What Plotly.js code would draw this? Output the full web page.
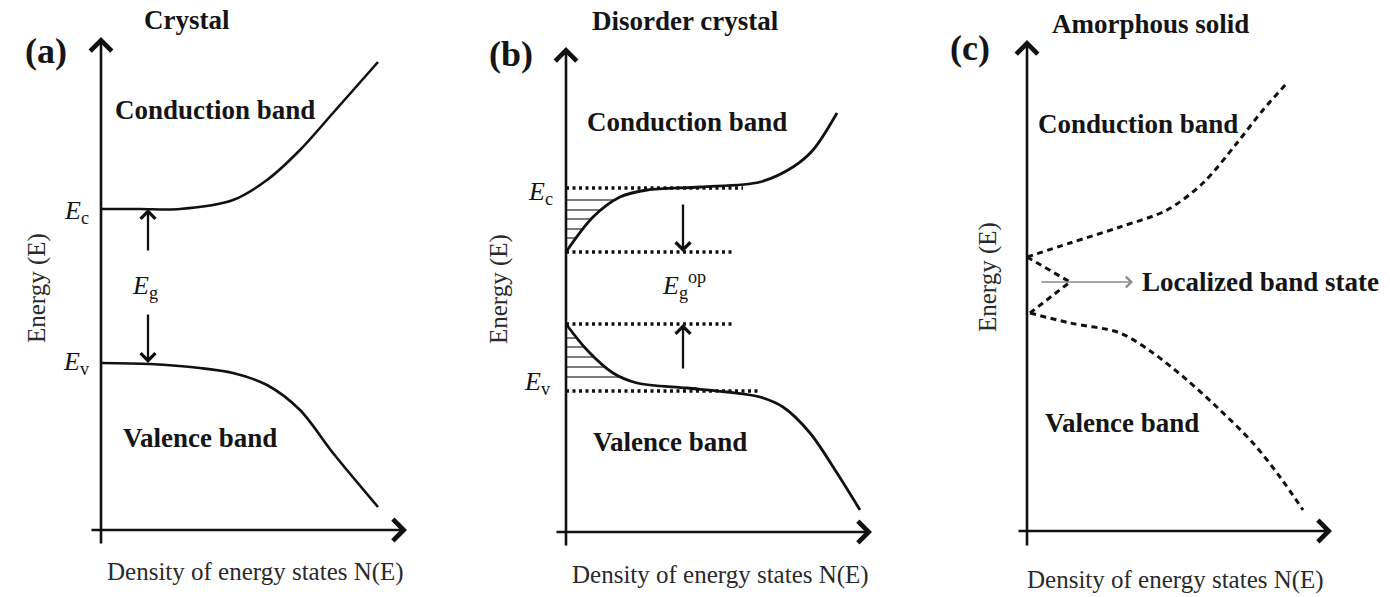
<!DOCTYPE html>
<html>
<head>
<meta charset="utf-8">
<script src="https://cdn.plot.ly/plotly-3.0.1.min.js"></script>
<style>
  html, body { margin: 0; padding: 0; background: #ffffff; }
  #chart { width: 1390px; height: 597px; }
</style>
</head>
<body>
<div id="chart"></div>
<script>
// ---- (a) Crystal: sharp band edges ----
const crystalCondN = [0, 0.39, 0.79, 1.32, 1.66, 1.99, 2.32, 2.77];
const crystalCondE = [3.21, 3.21, 3.21, 3.30, 3.50, 3.80, 4.17, 4.68];
const crystalValN  = [0, 0.49, 0.99, 1.32, 1.66, 1.99, 2.32, 2.77];
const crystalValE  = [1.67, 1.66, 1.62, 1.57, 1.45, 1.20, 0.77, 0.23];
const crystalEc = 3.21;
const crystalEv = 1.67;

// ---- (b) Disordered crystal: band tails into the gap ----
const disorderCondN = [0, 0.27, 0.54, 0.81, 1.34, 1.94, 2.27, 2.47, 2.71];
const disorderCondE = [2.80, 3.15, 3.35, 3.42, 3.45, 3.50, 3.65, 3.82, 4.19];
const disorderValN  = [0, 0.21, 0.47, 0.71, 1.21, 1.61, 1.94, 2.17, 2.44, 2.71, 2.94];
const disorderValE  = [2.08, 1.82, 1.59, 1.49, 1.44, 1.40, 1.35, 1.25, 0.99, 0.59, 0.22];
const disorderEc = 3.44;
const disorderEv = 1.41;
const disorderCondTail = 2.80;
const disorderValTail = 2.08;
const condTailHatchE = [3.32, 3.22, 3.13, 3.03, 2.94];
const valTailHatchE  = [1.94, 1.85, 1.75, 1.65, 1.55];

// ---- (c) Amorphous solid: overlapping localized tails ----
const amorphCondN = [0, 0.43, 0.93, 1.40, 1.76, 2.10, 2.36, 2.60];
const amorphCondE = [2.74, 2.88, 3.04, 3.21, 3.48, 3.88, 4.21, 4.48];
const amorphTailN = [0, 0.43, 0.03];
const amorphTailE = [2.74, 2.49, 2.18];
const amorphValN  = [0.03, 0.43, 0.93, 1.26, 1.60, 1.93, 2.26, 2.53, 2.76];
const amorphValE  = [2.18, 2.08, 1.98, 1.78, 1.51, 1.21, 0.88, 0.54, 0.21];

const panelLetters = ['(a)', '(b)', '(c)'];
const panelTitles = ['Crystal', 'Disorder crystal', 'Amorphous solid'];

// ---- layout geometry: each panel origin (px) and 100 px per unit ----
const W = 1390, H = 597, PX = 100;
const panels = [
  { ox: 101,  oy: 530, left: 0,   right: 463 },
  { ox: 566,  oy: 532, left: 463, right: 926 },
  { ox: 1027, oy: 531, left: 926, right: 1390 }
];

const SERIF = 'Liberation Serif, Times New Roman, serif';
const INK = '#151515';

function axName(i, kind) { return kind + (i === 0 ? '' : (i + 1)); }

const layout = {
  width: W, height: H,
  margin: { l: 0, r: 0, t: 0, b: 0 },
  paper_bgcolor: '#ffffff', plot_bgcolor: 'rgba(0,0,0,0)',
  showlegend: false,
  hovermode: false,
  annotations: [],
  font: { family: SERIF, color: INK }
};

panels.forEach((p, i) => {
  layout[axName(i, 'xaxis')] = {
    domain: [p.left / W, p.right / W],
    range: [(p.left - p.ox) / PX, (p.right - p.ox) / PX],
    visible: false, fixedrange: true
  };
  layout[axName(i, 'yaxis')] = {
    domain: [0, 1],
    range: [(p.oy - H) / PX, p.oy / PX],
    visible: false, fixedrange: true
  };
});

const traces = [];
function curve(i, xs, ys, opts) {
  traces.push(Object.assign({
    type: 'scatter', mode: 'lines', x: xs, y: ys,
    xaxis: i === 0 ? 'x' : 'x' + (i + 1),
    yaxis: i === 0 ? 'y' : 'y' + (i + 1),
    line: Object.assign({ color: '#111', width: 2.6, shape: 'spline', smoothing: 0.9 }, opts || {}),
    hoverinfo: 'skip', cliponaxis: false
  }));
}

// N(E) of a curve at energy level e (first crossing along the curve)
function nAt(ns, es, e) {
  for (let k = 0; k < es.length - 1; k++) {
    if ((e - es[k]) * (e - es[k + 1]) <= 0) {
      const t = (e - es[k]) / (es[k + 1] - es[k]);
      return ns[k] + t * (ns[k + 1] - ns[k]);
    }
  }
  return 0;
}

// (a)
curve(0, crystalCondN, crystalCondE);
curve(0, crystalValN, crystalValE);

// (b) hatched tail states
const hatch = { width: 1.5, color: '#505050', shape: 'linear' };
condTailHatchE.forEach(e => curve(1, [0, nAt(disorderCondN, disorderCondE, e)], [e, e], hatch));
valTailHatchE.forEach(e => curve(1, [0, nAt(disorderValN, disorderValE, e)], [e, e], hatch));
// (b) dotted reference levels
const dotted = { width: 3.4, color: '#111', dash: '3px,3.5px', shape: 'linear' };
curve(1, [0, 1.77], [disorderEc, disorderEc], dotted);
curve(1, [0, 1.67], [disorderCondTail, disorderCondTail], dotted);
curve(1, [0, 1.67], [disorderValTail, disorderValTail], dotted);
curve(1, [0, 1.94], [disorderEv, disorderEv], dotted);
curve(1, disorderCondN, disorderCondE, { width: 2.8 });
curve(1, disorderValN, disorderValE, { width: 2.8 });

// (c) dashed density of states
const dashed = { width: 3, dash: '6px,4.5px' };
curve(2, amorphCondN, amorphCondE, dashed);
curve(2, amorphTailN, amorphTailE, Object.assign({}, dashed, { shape: 'linear' }));
curve(2, amorphValN, amorphValE, dashed);

// ---- annotations ----
const A = layout.annotations;
function refs(i) { const s = i === 0 ? '' : String(i + 1); return { xref: 'x' + s, yref: 'y' + s, axref: 'x' + s, ayref: 'y' + s }; }
function arrow(i, x0, y0, x1, y1, o) {
  A.push(Object.assign(refs(i), {
    x: x1, y: y1, ax: x0, ay: y0, text: '', showarrow: true,
    arrowhead: 4, arrowsize: 1.6, arrowwidth: 2.6, arrowcolor: '#111', standoff: 0
  }, o || {}));
}
function label(i, x, y, text, size, o) {
  A.push(Object.assign({ xref: refs(i).xref, yref: refs(i).yref, x: x, y: y, text: text,
    showarrow: false, font: { family: SERIF, size: size, color: INK } }, o || {}));
}

// axes with arrow tips
const axisExtents = [
  { xTail: -0.11, xTip: 3.06, yTail: -0.15, yTip: 4.93 },
  { xTail: -0.11, xTip: 3.06, yTail: -0.15, yTip: 4.85 },
  { xTail: -0.10, xTip: 3.05, yTail: -0.16, yTip: 4.91 }
];
axisExtents.forEach((a, i) => {
  arrow(i, a.xTail, 0, a.xTip, 0);
  arrow(i, 0, a.yTail, 0, a.yTip);
});

// gap arrows
const small = { arrowsize: 1.25, arrowwidth: 2.3 };
arrow(0, 0.47, 2.78, 0.47, crystalEc, small);
arrow(0, 0.47, 2.17, 0.47, crystalEv, small);
arrow(1, 1.17, 3.29, 1.17, disorderCondTail, small);
arrow(1, 1.17, 1.62, 1.17, disorderValTail, small);
arrow(2, 0.13, 2.49, 1.06, 2.49, { arrowwidth: 1.5, arrowsize: 1.4, arrowcolor: '#8a8a8a' });

// text
const letterPos = [[-0.55, 4.79], [-0.55, 4.78], [-0.57, 4.83]];
const titlePos = [[0.86, 5.10], [1.19, 5.11], [1.23, 5.07]];
const condPos = [[1.14, 4.20], [1.21, 4.10], [1.11, 4.07]];
const valPos = [[0.99, 0.92], [1.04, 0.90], [0.95, 1.08]];
const dosPos = [[1.54, -0.42], [1.54, -0.43], [1.48, -0.49]];
const energyPos = [[-0.64, 2.42], [-0.67, 2.43], [-0.39, 2.54]];

for (let i = 0; i < 3; i++) {
  label(i, letterPos[i][0], letterPos[i][1], '<b>' + panelLetters[i] + '</b>', 36);
  label(i, titlePos[i][0], titlePos[i][1], '<b>' + panelTitles[i] + '</b>', 27);
  label(i, condPos[i][0], condPos[i][1], '<b>Conduction band</b>', 27);
  label(i, valPos[i][0], valPos[i][1], '<b>Valence band</b>', 27);
  label(i, dosPos[i][0], dosPos[i][1], 'Density of energy states N(E)', 25, { font: { family: SERIF, size: 25, color: '#2a2a2a' } });
  label(i, energyPos[i][0], energyPos[i][1], 'Energy (E)', 25, { textangle: -90, font: { family: SERIF, size: 25, color: '#2a2a2a' } });
}

label(0, -0.25, crystalEc - 0.03, '<i>E</i><sub>c</sub>', 26);
label(0, -0.25, crystalEv, '<i>E</i><sub>v</sub>', 26);
label(0, 0.44, 2.43, '<i>E</i><sub>g</sub>', 26);
label(1, -0.26, 3.39, '<i>E</i><sub>c</sub>', 26);
label(1, -0.29, 1.49, '<i>E</i><sub>v</sub>', 26);
label(1, 1.18, 2.47, '<i>E</i><sub>g</sub><sup>op</sup>', 26);
label(2, 1.13, 2.49, '<b>Localized band state</b>', 27, { xanchor: 'left' });

Plotly.newPlot('chart', traces, layout, { staticPlot: true, displayModeBar: false });
</script>
</body>
</html>
